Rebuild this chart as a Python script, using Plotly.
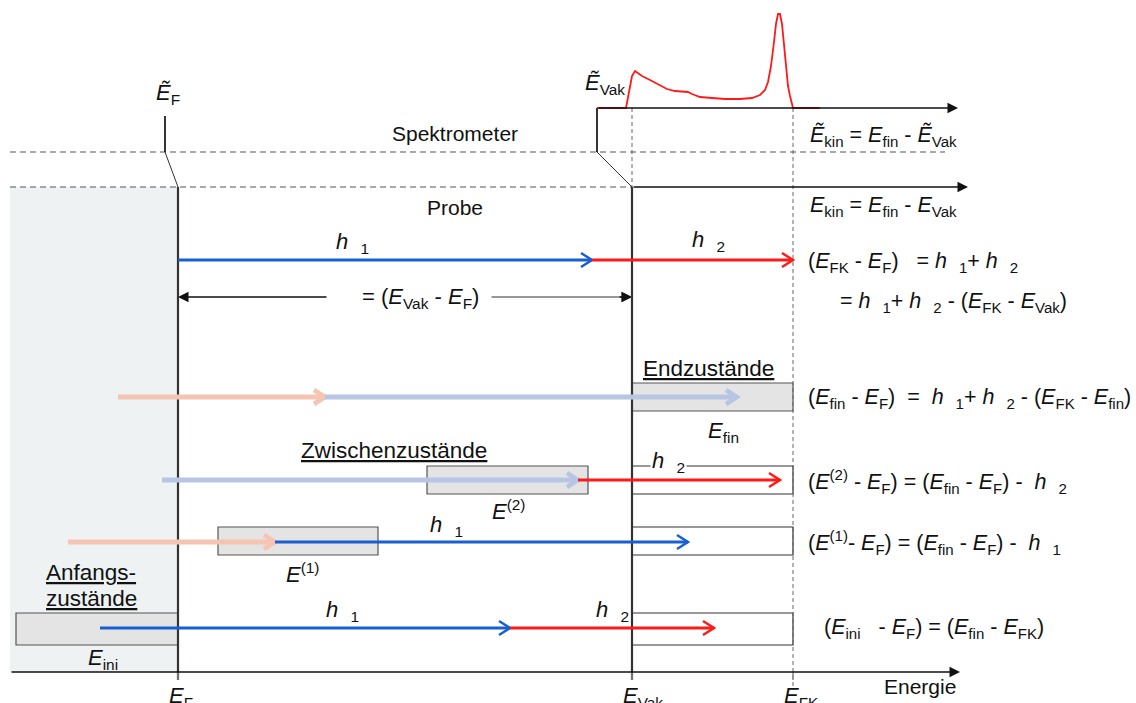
import plotly.graph_objects as go

# ---- energy positions on the horizontal axis (drawing units) ----
E_F = 178          # Fermi level of the sample
E_VAK = 632        # vacuum level of the sample
E_FK = 793         # Fermi cutoff
E_F_SPEC = 165     # Fermi level of the spectrometer
E_VAK_SPEC = 597   # vacuum level of the spectrometer

# ---- vertical layout rows ----
Y_SPEC_AXIS = 108
Y_SPEC = 152
Y_PROBE = 187
Y_AXIS = 672
LEFT = 10

# ---- photoemission spectrum (energy, intensity) ----
spec_x = [597, 626, 629, 632, 635, 638, 642, 650, 660, 667, 675, 683, 688, 692,
          700, 712, 725, 740, 752, 760, 765, 768, 771, 774, 776, 778, 780, 782,
          784, 786, 788, 790, 792, 793, 820]
spec_int = [0, 0, 16, 32, 37, 35, 32, 28, 23, 19, 17, 16, 16, 14,
            11, 10, 9, 9, 10, 13, 18, 26, 42, 66, 84, 94, 94, 84,
            62, 38, 22, 12, 5, 0, 0]

# ---- transitions: (start, end, row y, colour key) ----
transitions = [
    (E_F, 592, 260, "blue"), (592, E_FK, 260, "red"),
    (118, 325, 397, "salmon"), (325, 737, 397, "lightblue"),
    (162, 578, 480, "lightblue"), (578, 780, 480, "red"),
    (68, 275, 542, "salmon"), (275, 688, 542, "blue"),
    (100, 510, 628, "blue"), (510, 714, 628, "red"),
]
COLORS = {"blue": "#1a5fd0", "red": "#ff1a1a",
          "salmon": "#f6c4b2", "lightblue": "#b8c5e3"}
WIDTHS = {"blue": 3, "red": 3, "salmon": 5, "lightblue": 5}

# ---- states: (x0, x1, y0, y1) ----
filled_states = [(E_VAK, E_FK, 383, 411), (427, 588, 466, 494),
                 (218, 378, 527, 555), (16, E_F, 613, 645)]
open_states = [(E_VAK, E_FK, 466, 494), (E_VAK, E_FK, 527, 555),
               (E_VAK, E_FK, 613, 645)]

FONT = "Liberation Sans, Arial, sans-serif"
TXT = "#111111"
NB = "\u00a0"
FS = 22      # general label size
FS_EQ = 21.5  # equations


def h(n):
    return f"<i>h</i>{NB}{NB}<sub>{n}</sub>"


def E(sub=None, sup=None, tilde=False):
    s = "<i>Ẽ</i>" if tilde else "<i>E</i>"
    if sup:
        s += f"<sup>{sup}</sup>"
    if sub:
        s += f"<sub>{sub}</sub>"
    return s


fig = go.Figure()
shapes = []
annotations = []

# shaded metal region
shapes.append(dict(type="rect", x0=LEFT, x1=E_F, y0=Y_PROBE, y1=Y_AXIS,
                   fillcolor="#eef2f3", line_width=0, layer="below"))

# state boxes
for x0, x1, y0, y1 in filled_states:
    shapes.append(dict(type="rect", x0=x0, x1=x1, y0=y0, y1=y1,
                       fillcolor="#e4e4e4", line=dict(color="#555555", width=1.2),
                       layer="below"))
for x0, x1, y0, y1 in open_states:
    shapes.append(dict(type="rect", x0=x0, x1=x1, y0=y0, y1=y1,
                       fillcolor="rgba(0,0,0,0)", line=dict(color="#333333", width=1.2),
                       layer="below"))

# dashed separator lines (spectrometer / sample)
shapes.append(dict(type="line", x0=LEFT, x1=945, y0=Y_SPEC, y1=Y_SPEC,
                   line=dict(color="#555555", width=1.2, dash="6px,4px"), layer="below"))
shapes.append(dict(type="line", x0=LEFT, x1=E_VAK, y0=Y_PROBE, y1=Y_PROBE,
                   line=dict(color="#555555", width=1.2, dash="6px,4px"), layer="below"))

# dashed verticals
shapes.append(dict(type="line", x0=E_FK, x1=E_FK, y0=Y_SPEC_AXIS, y1=690,
                   line=dict(color="#666666", width=1, dash="4px,3px"), layer="below"))
shapes.append(dict(type="line", x0=E_VAK, x1=E_VAK, y0=Y_SPEC_AXIS, y1=Y_PROBE,
                   line=dict(color="#666666", width=1, dash="4px,3px"), layer="below"))

# sample levels
for x in (E_F, E_VAK):
    shapes.append(dict(type="line", x0=x, x1=x, y0=Y_PROBE, y1=Y_AXIS + 8,
                       line=dict(color="#333333", width=2.2), layer="below"))
# spectrometer levels and their connection to the sample
shapes.append(dict(type="line", x0=E_F_SPEC, x1=E_F_SPEC, y0=116, y1=Y_SPEC,
                   line=dict(color="#333333", width=2)))
shapes.append(dict(type="line", x0=E_F_SPEC, x1=E_F, y0=Y_SPEC, y1=Y_PROBE,
                   line=dict(color="#333333", width=1)))
shapes.append(dict(type="line", x0=E_VAK_SPEC, x1=E_VAK_SPEC, y0=Y_SPEC_AXIS, y1=Y_SPEC,
                   line=dict(color="#333333", width=2)))
shapes.append(dict(type="line", x0=E_VAK_SPEC, x1=E_VAK, y0=Y_SPEC, y1=Y_PROBE,
                   line=dict(color="#333333", width=1)))

# bottom energy axis ticks
for x in (E_F, E_VAK, E_FK):
    shapes.append(dict(type="line", x0=x, x1=x, y0=Y_AXIS, y1=Y_AXIS + 8,
                       line=dict(color="#888888", width=1.5)))

# axes with filled arrowheads
axis_arrows = [(E_VAK_SPEC, 958, Y_SPEC_AXIS, "#111111"),
               (E_VAK, 968, Y_PROBE, "#111111"),
               (LEFT, 960, Y_AXIS, "#111111"),
               (328, E_F, 297, "#111111"),
               (490, E_VAK, 297, "#777777")]
for xs, xe, y, c in axis_arrows:
    annotations.append(dict(x=xe, y=y, ax=xs, ay=y, xref="x", yref="y",
                            axref="x", ayref="y", text="", showarrow=True,
                            arrowhead=2, arrowsize=1.4, arrowwidth=1.5,
                            arrowcolor=c, standoff=0))
# black arrowhead on the grey right segment
annotations.append(dict(x=E_VAK, y=297, ax=E_VAK - 14, ay=297, xref="x", yref="y",
                        axref="x", ayref="y", text="", showarrow=True,
                        arrowhead=2, arrowsize=1.4, arrowwidth=1.5,
                        arrowcolor="#111111", standoff=0))

# spectrum
fig.add_trace(go.Scatter(x=spec_x, y=[Y_SPEC_AXIS - v for v in spec_int],
                         mode="lines", line=dict(color="#ff1a1a", width=1.8),
                         hoverinfo="skip"))

# transitions with open arrowheads
for x0, x1, y, key in transitions:
    c, w = COLORS[key], WIDTHS[key]
    fig.add_trace(go.Scatter(x=[x0, x1], y=[y, y], mode="lines",
                             line=dict(color=c, width=w), hoverinfo="skip"))
    fig.add_trace(go.Scatter(x=[x1 - 11, x1, x1 - 11], y=[y - 7, y, y + 7],
                             mode="lines", line=dict(color=c, width=w - 0.5),
                             hoverinfo="skip"))


def label(x, y, text, size=FS, xanchor="left", bg=None):
    d = dict(x=x, y=y, xref="x", yref="y", text=text, showarrow=False,
             xanchor=xanchor, yanchor="middle",
             font=dict(family=FONT, size=size, color=TXT))
    if bg:
        d["bgcolor"] = bg
        d["borderpad"] = 1
    annotations.append(d)


# level labels
label(E_F_SPEC + 3, 94, E("F", tilde=True), xanchor="center")
label(E_VAK_SPEC + 8, 84, E("Vak", tilde=True), xanchor="center")
label(455, 133, "Spektrometer", size=21, xanchor="center")
label(455, 207, "Probe", size=21, xanchor="center")
label(808, 136, f"{E('kin', tilde=True)} = {E('fin')} - {E('Vak', tilde=True)}", size=21.5)
label(808, 206, f"{E('kin')} = {E('fin')} - {E('Vak')}", size=21.5)

# photon labels
label(334, 243, h(1))
label(690, 241, h(2))
label(360, 298, f"= ({E('Vak')} - {E('F')})")
label(650, 462, h(2), bg="white")
label(428, 526, h(1))
label(324, 611, h(1))
label(594, 611, h(2))

# state labels
label(641, 368, "<u>Endzustände</u>", size=22.5)
label(706, 432, E("fin"))
label(299, 450, "<u>Zwischenzustände</u>", size=22.5)
label(490, 510, E(sup="(2)"))
label(284, 573, E(sup="(1)"))
label(44, 572, "<u>Anfangs-</u>", size=22.5)
label(44, 598, "<u>zustände</u>", size=22.5)
label(86, 659, E("ini"))

# energy axis labels
label(E_F - 11, 697, E("F"))
label(E_VAK - 11, 697, E("Vak"))
label(E_FK - 11, 697, E("FK"))
label(882, 686, "Energie", size=21)

# energy balance equations
label(806, 262, f"({E('FK')} - {E('F')}){NB}{NB} = {h(1)}+ {h(2)}", size=FS_EQ)
label(838, 302, f"= {h(1)}+ {h(2)} - ({E('FK')} - {E('Vak')})", size=FS_EQ)
label(806, 398, f"({E('fin')} - {E('F')}){NB} = {NB}{h(1)}+ {h(2)} - ({E('FK')} - {E('fin')})",
      size=FS_EQ)
label(806, 481, f"({E(sup='(2)')} - {E('F')}) = ({E('fin')} - {E('F')}) -{NB} {h(2)}",
      size=FS_EQ)
label(806, 542, f"({E(sup='(1)')}- {E('F')}) = ({E('fin')} - {E('F')}) -{NB} {h(1)}",
      size=FS_EQ)
label(822, 628, f"({E('ini')}{NB}{NB} - {E('F')}) = ({E('fin')} - {E('FK')})", size=FS_EQ)

fig.update_layout(
    width=1136, height=703, autosize=False,
    margin=dict(l=0, r=0, t=0, b=0),
    paper_bgcolor="white", plot_bgcolor="white",
    showlegend=False,
    xaxis=dict(range=[0, 1136], visible=False, fixedrange=True),
    yaxis=dict(range=[703, 0], visible=False, fixedrange=True),
    shapes=shapes, annotations=annotations,
)

fig.write_html("out.html")
